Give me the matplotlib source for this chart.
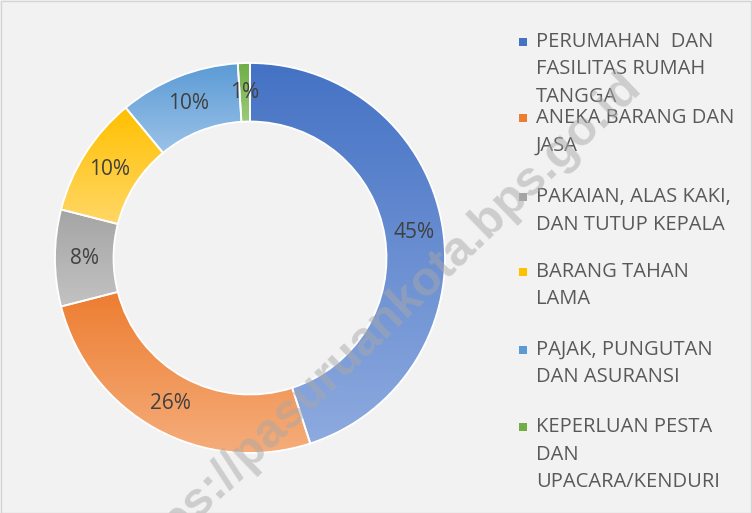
import numpy as np
import matplotlib
matplotlib.use("Agg")
import matplotlib.pyplot as plt
from matplotlib.colors import LinearSegmentedColormap
from matplotlib.patches import Rectangle

plt.rcParams["font.family"] = ["Open Sans", "DejaVu Sans"]

categories = [
    "PERUMAHAN  DAN\nFASILITAS RUMAH\nTANGGA",
    "ANEKA BARANG DAN\nJASA",
    "PAKAIAN, ALAS KAKI,\nDAN TUTUP KEPALA",
    "BARANG TAHAN\nLAMA",
    "PAJAK, PUNGUTAN\nDAN ASURANSI",
    "KEPERLUAN PESTA\nDAN\nUPACARA/KENDURI",
]
values = [45, 26, 8, 10, 10, 1]
# solid colour for legend, gradient top -> bottom for slices
colors = ["#4472c4", "#ed7d31", "#a5a5a5", "#ffc000", "#5b9bd5", "#70ad47"]
grad_bottom = ["#8eaadf", "#f5ad7b", "#c2c2c2", "#ffd766", "#9cc2e8", "#9acb7a"]

W, H = 752, 513
fig = plt.figure(figsize=(W / 100, H / 100), dpi=100)
fig.patch.set_facecolor("#f2f2f2")

# donut: centre (250, 258) px, outer radius 195 px
cx, cy, r_px = 250, 258, 195
half = 200
ax = fig.add_axes([(cx - half) / W, (H - cy - half) / H, 2 * half / W, 2 * half / H])
ax.set_facecolor("none")

wedges, _ = ax.pie(values, startangle=90, counterclock=False, radius=1,
                   wedgeprops=dict(width=0.3, edgecolor="white", linewidth=1.3))

for w, c_top, c_bot in zip(wedges, colors, grad_bottom):
    w.set_facecolor("none")
    w.set_zorder(3)
    bb = w.get_path().get_extents()
    cmap = LinearSegmentedColormap.from_list("g", [c_top, c_bot])
    grad = np.linspace(0, 1, 256).reshape(-1, 1)
    im = ax.imshow(grad, extent=(bb.x0, bb.x1, bb.y0, bb.y1), origin="upper",
                   cmap=cmap, aspect="auto", zorder=2, interpolation="bilinear")
    im.set_clip_path(w)

# percentage labels at ring middle
total = sum(values)
start = 90.0
for v in values:
    mid = np.deg2rad(start - 360 * v / total / 2)
    start -= 360 * v / total
    ax.text(0.85 * np.cos(mid), 0.85 * np.sin(mid), f"{v}%", ha="center", va="center",
            fontsize=15, color="#404040", zorder=5)

lim = half / r_px
ax.set_xlim(-lim, lim)
ax.set_ylim(-lim, lim)
ax.set_aspect("equal")
ax.axis("off")

# legend, drawn by hand to match spacing
entry_y = [42, 118, 197, 272, 350, 427]
line_h = 27.5
for lab, col, y0 in zip(categories, colors, entry_y):
    fig.patches.append(Rectangle(((523 - 4) / W, (H - y0 - 4) / H), 8 / W, 8 / H,
                                 transform=fig.transFigure, facecolor=col, edgecolor="none"))
    for i, line in enumerate(lab.split("\n")):
        fig.text(536 / W, (H - y0 - i * line_h) / H, line, ha="left", va="center",
                 fontsize=14.5, color="#595959")

# watermark
fig.text(378 / W, (H - 326) / H, "https://pasuruankota.bps.go.id", rotation=44,
         rotation_mode="anchor", ha="center", va="center", fontsize=35,
         fontweight="bold", family="Liberation Sans", color="#a8a8a8", alpha=0.5,
         zorder=10)

# thin frame around picture
fig.patches.append(Rectangle((0.5 / W, 0.5 / H), 1 - 1.5 / W, 1 - 1.5 / H,
                             transform=fig.transFigure, facecolor="none",
                             edgecolor="#d4d4d4", linewidth=1))

fig.savefig("out.png", dpi=100, facecolor=fig.get_facecolor())
